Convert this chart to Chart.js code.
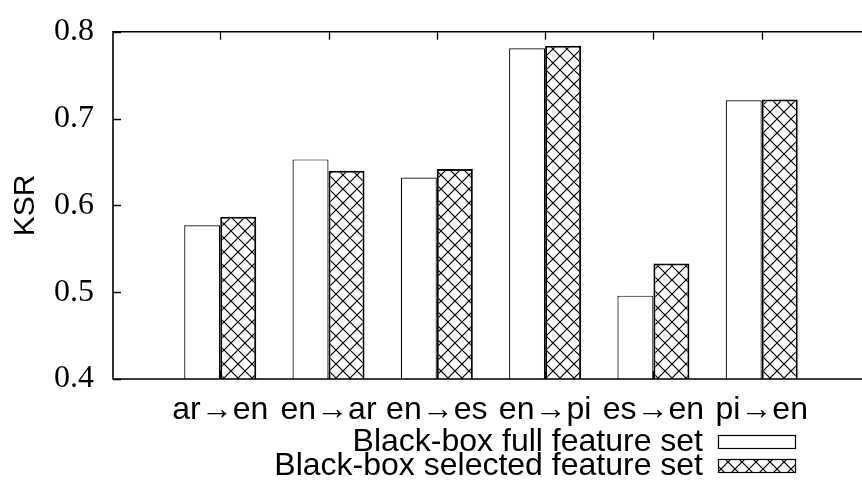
<!DOCTYPE html>
<html>
<head>
<meta charset="utf-8">
<title>KSR by language pair</title>
<script src="https://cdn.jsdelivr.net/npm/chart.js@4.4.1/dist/chart.umd.min.js"></script>
<style>
  html, body { margin: 0; padding: 0; background: #fff; }
  canvas { display: block; }
</style>
</head>
<body>
<canvas id="chart" width="862" height="482"></canvas>
<script>
// Language pairs on the x axis
const categories = ['ar→en', 'en→ar', 'en→es', 'en→pi', 'es→en', 'pi→en'];
// KSR per language pair
const fullFeatureSet = [0.577, 0.653, 0.632, 0.781, 0.496, 0.721];
const selectedFeatureSet = [0.587, 0.640, 0.642, 0.784, 0.533, 0.722];
// Y axis ticks
const yTicks = [0.4, 0.5, 0.6, 0.7, 0.8];
const seriesNames = ['Black-box full feature set', 'Black-box selected feature set'];

const SANS = '"Liberation Sans", Arial, sans-serif';
const SERIF = '"Liberation Serif", "Times New Roman", serif';

// Cross-hatch fill
function makeHatch(period) {
  const c = document.createElement('canvas');
  c.width = period; c.height = period;
  const g = c.getContext('2d');
  g.fillStyle = '#fff';
  g.fillRect(0, 0, period, period);
  g.strokeStyle = '#000';
  g.lineWidth = 1.2;
  g.beginPath();
  g.moveTo(-1, -1); g.lineTo(period + 1, period + 1);
  g.moveTo(period + 1, -1); g.lineTo(-1, period + 1);
  g.stroke();
  return document.getElementById('chart').getContext('2d').createPattern(c, 'repeat');
}
const hatch = makeHatch(14);

const toPoints = vals => categories.map((c, i) => ({ x: i, y: vals[i] }));

// Frame, inward ticks and key drawn on top of the bars
const framePlugin = {
  id: 'frame',
  beforeDraw(chart) {
    const ctx = chart.ctx;
    ctx.save();
    ctx.fillStyle = '#fff';
    ctx.fillRect(0, 0, chart.width, chart.height);
    ctx.restore();
  },
  afterDatasetsDraw(chart) {
    const { ctx, chartArea: a, scales } = chart;
    ctx.save();
    ctx.strokeStyle = '#000';
    ctx.lineWidth = 1.6;
    ctx.beginPath();
    ctx.moveTo(a.right + 2, a.top); ctx.lineTo(a.left, a.top);
    ctx.lineTo(a.left, a.bottom); ctx.lineTo(a.right + 2, a.bottom);
    ctx.stroke();
    ctx.lineWidth = 1.3;
    ctx.beginPath();
    yTicks.forEach(v => {
      const y = Math.round(scales.y.getPixelForValue(v)) + 0.5;
      ctx.moveTo(a.left, y); ctx.lineTo(a.left + 8, y);
    });
    categories.forEach((c, i) => {
      const x = Math.round(scales.x.getPixelForValue(i)) + 0.5;
      ctx.moveTo(x, a.top); ctx.lineTo(x, a.top + 8);
      ctx.moveTo(x, a.bottom); ctx.lineTo(x, a.bottom - 8);
    });
    ctx.stroke();
    ctx.restore();
  },
  afterDraw(chart) {
    const ctx = chart.ctx;
    ctx.save();
    ctx.font = '32px ' + SANS;
    ctx.fillStyle = '#000';
    ctx.textAlign = 'right';
    ctx.textBaseline = 'middle';
    const rows = [442, 466];
    chart.data.datasets.forEach((ds, k) => {
      const y = rows[k];
      ctx.fillText(ds.label, 703, y);
      ctx.fillStyle = ds.backgroundColor;
      ctx.fillRect(718, y - 6, 77, 13);
      ctx.strokeStyle = '#000';
      ctx.lineWidth = 1.2;
      ctx.strokeRect(718.5, y - 6.5, 77, 13);
      ctx.fillStyle = '#000';
    });
    ctx.restore();
  }
};

new Chart(document.getElementById('chart'), {
  type: 'bar',
  data: {
    datasets: [
      {
        label: seriesNames[0],
        data: toPoints(fullFeatureSet),
        backgroundColor: '#fff',
        borderColor: '#000',
        borderWidth: 1.2,
        borderSkipped: 'start',
        categoryPercentage: 0.665,
        barPercentage: 1.0
      },
      {
        label: seriesNames[1],
        data: toPoints(selectedFeatureSet),
        backgroundColor: hatch,
        borderColor: '#000',
        borderWidth: 2,
        borderSkipped: 'start',
        categoryPercentage: 0.665,
        barPercentage: 1.0
      }
    ]
  },
  options: {
    responsive: false,
    animation: false,
    events: [],
    layout: { padding: { top: 27, right: 0, bottom: 0, left: 0 } },
    plugins: { legend: { display: false }, tooltip: { enabled: false } },
    scales: {
      x: {
        type: 'linear',
        offset: false,
        min: -0.99,
        max: 5.926,
        grid: { display: false, drawTicks: false, offset: false },
        border: { display: false },
        afterBuildTicks(scale) { scale.ticks = categories.map((c, i) => ({ value: i })); },
        afterFit(scale) { scale.height = 103; },
        ticks: {
          autoSkip: false,
          maxRotation: 0,
          minRotation: 0,
          padding: 12,
          color: '#000',
          font: { family: SANS, size: 32 },
          callback: v => categories[v] ?? ''
        }
      },
      y: {
        min: 0.4,
        max: 0.8,
        grid: { display: false, drawTicks: false },
        border: { display: false },
        afterBuildTicks(scale) { scale.ticks = yTicks.map(v => ({ value: v })); },
        afterFit(scale) { scale.width = 113; },
        ticks: {
          padding: 19,
          color: '#000',
          font: { family: SERIF, size: 32, lineHeight: 0.8 },
          callback: v => Number(v).toFixed(1)
        },
        title: {
          display: true,
          text: 'KSR',
          color: '#000',
          padding: { top: 8, bottom: 0 },
          font: { family: SANS, size: 30 }
        }
      }
    }
  },
  plugins: [framePlugin]
});
</script>
</body>
</html>
